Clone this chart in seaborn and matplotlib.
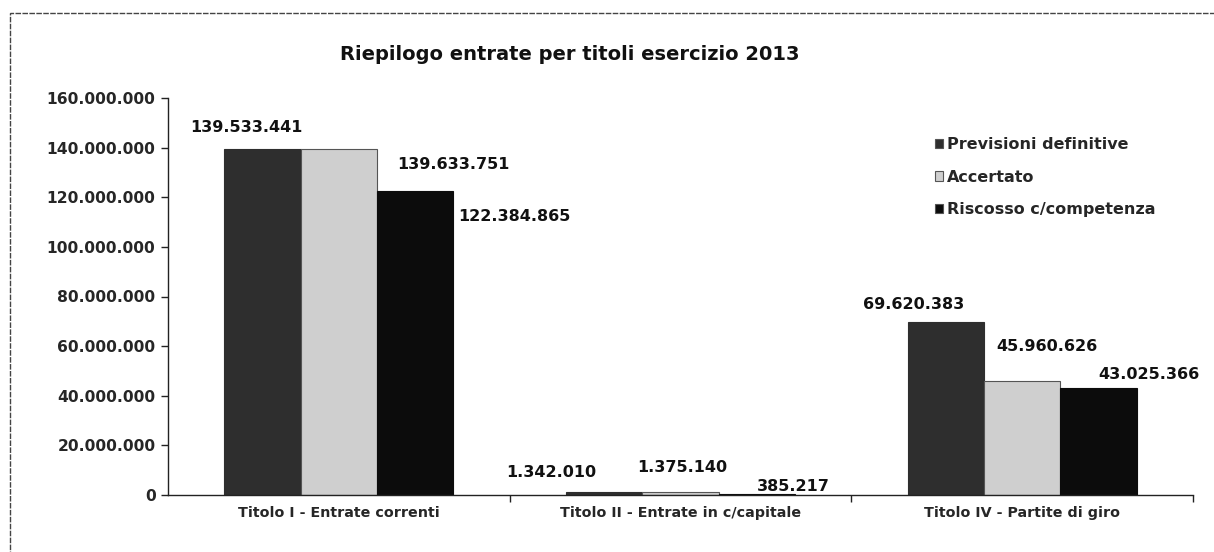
import matplotlib
matplotlib.use("Agg")
import matplotlib.pyplot as plt
import seaborn as sns
import pandas as pd
from matplotlib.patches import Rectangle, Patch
from matplotlib.ticker import FixedLocator, FuncFormatter

categories = ["Titolo I - Entrate correnti", "Titolo II - Entrate in c/capitale", "Titolo IV - Partite di giro"]
series = ["Previsioni definitive", "Accertato", "Riscosso c/competenza"]
previsioni = [139533441, 1342010, 69620383]
accertato = [139633751, 1375140, 45960626]
riscosso = [122384865, 385217, 43025366]
yticks = [0, 20000000, 40000000, 60000000, 80000000, 100000000, 120000000, 140000000, 160000000]

values = [previsioni, accertato, riscosso]
rows = []
for s, vals in zip(series, values):
    for c, v in zip(categories, vals):
        rows.append({"cat": c, "serie": s, "val": v})
df = pd.DataFrame(rows)

colors = ["#2e2e2e", "#cfcfcf", "#0c0c0c"]
# label offsets in pixels (dx, dy) relative to each bar's top-centre
label_offsets = [
    [(-16, 21), (-53, 19), (-32, 18)],
    [(115, -16), (2, 24), (25, 34)],
    [(99, -25), (37, 8), (50, 14)],
]

sns.set_theme(style="white")
plt.rcParams["font.family"] = ["DejaVu Sans"]

fig = plt.figure(figsize=(12.14, 5.52), dpi=100)
ax = fig.add_axes([168/1214, 1-495/552, (1193-168)/1214, (495-98)/552])

sns.barplot(data=df, x="cat", y="val", hue="serie", palette=colors, width=0.67,
            order=categories, hue_order=series, ax=ax, saturation=1, legend=False)

for i, cont in enumerate(ax.containers):
    for j, bar in enumerate(cont):
        bar.set_edgecolor("#555555" if i == 1 else colors[i])
        bar.set_linewidth(0.8)
        dx, dy = label_offsets[i][j]
        v = values[i][j]
        txt = f"{v:,}".replace(",", ".")
        ax.annotate(txt, (bar.get_x() + bar.get_width()/2, bar.get_height()),
                    xytext=(dx, dy), textcoords="offset pixels",
                    ha="center", va="center", fontsize=11.5, fontweight="bold", color="#111111")

ax.set_ylim(0, 160000000)
ax.set_xlim(-0.5, 2.5)
ax.yaxis.set_major_locator(FixedLocator(yticks))
ax.yaxis.set_major_formatter(FuncFormatter(lambda v, p: f"{int(v):,}".replace(",", ".")))
ax.set_xlabel("")
ax.set_ylabel("")
for sp in ["top", "right"]:
    ax.spines[sp].set_visible(False)
for sp in ["left", "bottom"]:
    ax.spines[sp].set_color("#222222")
    ax.spines[sp].set_linewidth(1)
ax.tick_params(axis="y", left=True, length=5, width=1, color="#222222", direction="out",
               labelsize=11.2, pad=4)
for lab in ax.get_yticklabels():
    lab.set_fontweight("bold")
ax.xaxis.set_minor_locator(FixedLocator([0.5, 1.5, 2.5]))
ax.tick_params(axis="x", which="major", length=0, labelsize=10.3, pad=8)
ax.tick_params(axis="x", which="minor", bottom=True, length=5, width=1, color="#222222", direction="out")
for lab in ax.get_xticklabels():
    lab.set_fontweight("bold")

fig.text(570/1214, 1-55/552, "Riepilogo entrate per titoli esercizio 2013",
         ha="center", va="center", fontsize=14, fontweight="bold", color="#111111")

handles = [Patch(facecolor=colors[k], edgecolor="#555555", linewidth=0.8) for k in range(3)]
fig.legend(handles, series, loc="upper left", bbox_to_anchor=(921/1214, 1-123/552),
           frameon=False, handlelength=0.5, handleheight=0.5, handletextpad=0.2,
           labelspacing=1.08, prop={"weight": "bold", "size": 11.5})

fig.patches.append(Rectangle((10/1214, -0.1), 1.5, 1-12.5/552+0.1, transform=fig.transFigure,
                             fill=False, edgecolor="#444444", linewidth=1, linestyle=(0, (4, 1))))

fig.savefig("out.png", dpi=100)
